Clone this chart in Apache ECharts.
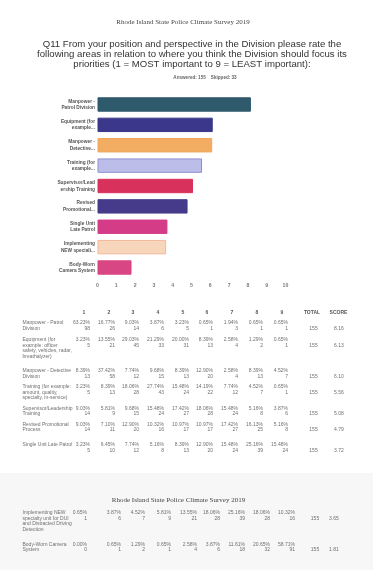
<!DOCTYPE html>
<html>
<head>
<meta charset="utf-8">
<script src="https://cdn.jsdelivr.net/npm/echarts@6/dist/echarts.min.js"></script>
<style>
html,body{margin:0;padding:0;background:#fff;}
#c{width:386px;height:581px;}
</style>
</head>
<body>
<div id="c"></div>
<script>
// ---------------- DATA ----------------
const surveyTitle = 'Rhode Island State Police Climate Survey 2019';
const questionText = 'Q11 From your position and perspective in the Division please rate the\nfollowing areas in relation to where you think the Division should focus its\npriorities (1 = MOST important to 9 = LEAST important):';
const answeredText = 'Answered: 155    Skipped: 33';

const chartCategories = [
  'Manpower -\nPatrol Division',
  'Equipment (for\nexample...',
  'Manpower -\nDetective...',
  'Training (for\nexample...',
  'Supervisor/Lead\nership Training',
  'Revised\nPromotional...',
  'Single Unit\nLate Patrol',
  'Implementing\nNEW speciali...',
  'Body-Worn\nCamera System'
];
const scores = [8.16, 6.13, 6.10, 5.56, 5.08, 4.79, 3.72, 3.65, 1.81];
const xTicks = [0, 1, 2, 3, 4, 5, 6, 7, 8, 9, 10];

const tableHeaders = ['1', '2', '3', '4', '5', '6', '7', '8', '9', 'TOTAL', 'SCORE'];
const tableLabels = [
  'Manpower - Patrol\nDivision',
  'Equipment (for\nexample: officer\nsafety, vehicles, radar,\nbreathalyzer)',
  'Manpower - Detective\nDivision',
  'Training (for example:\namount, quality,\nspecialty, in-service)',
  'Supervisor/Leadership\nTraining',
  'Revised Promotional\nProcess',
  'Single Unit Late Patrol',
  'Implementing NEW\nspecialty unit for DUI\nand Distracted Driving\nDetection',
  'Body-Worn Camera\nSystem'
];
const pctPatrol      = ['63.23%', '16.77%', '9.03%', '3.87%', '3.23%', '0.65%', '1.94%', '0.65%', '0.65%'];
const pctEquipment   = ['3.23%', '13.55%', '29.03%', '21.29%', '20.00%', '8.39%', '2.58%', '1.29%', '0.65%'];
const pctDetective   = ['8.39%', '37.42%', '7.74%', '9.68%', '8.39%', '12.90%', '2.58%', '8.39%', '4.52%'];
const pctTraining    = ['3.23%', '8.39%', '18.06%', '27.74%', '15.48%', '14.19%', '7.74%', '4.52%', '0.65%'];
const pctSupervisor  = ['9.03%', '5.81%', '9.68%', '15.48%', '17.42%', '18.06%', '15.48%', '5.16%', '3.87%'];
const pctRevised     = ['9.03%', '7.10%', '12.90%', '10.32%', '10.97%', '10.97%', '17.42%', '16.13%', '5.16%'];
const pctSingle      = ['3.23%', '6.45%', '7.74%', '5.16%', '8.39%', '12.90%', '15.48%', '25.16%', '15.48%'];
const pctImplementing= ['0.65%', '3.87%', '4.52%', '5.81%', '13.55%', '18.06%', '25.16%', '18.06%', '10.32%'];
const pctBodyWorn    = ['0.00%', '0.65%', '1.29%', '0.65%', '2.58%', '3.87%', '11.61%', '20.65%', '58.71%'];

const cntPatrol      = [98, 26, 14, 6, 5, 1, 3, 1, 1];
const cntEquipment   = [5, 21, 45, 33, 31, 13, 4, 2, 1];
const cntDetective   = [13, 58, 12, 15, 13, 20, 4, 13, 7];
const cntTraining    = [5, 13, 28, 43, 24, 22, 12, 7, 1];
const cntSupervisor  = [14, 9, 15, 24, 27, 28, 24, 8, 6];
const cntRevised     = [14, 11, 20, 16, 17, 17, 27, 25, 8];
const cntSingle      = [5, 10, 12, 8, 13, 20, 24, 39, 24];
const cntImplementing= [1, 6, 7, 9, 21, 28, 39, 28, 16];
const cntBodyWorn    = [0, 1, 2, 1, 4, 6, 18, 32, 91];

const totals = [155, 155, 155, 155, 155, 155, 155, 155, 155];

// ---------------- STYLE / LAYOUT ----------------
const barColors = ['#2e5a6c', '#3b378a', '#f3ad62', '#bcbde9', '#d8325c', '#463a8a', '#d53c88', '#f7d6bb', '#d94684'];
const barBorders = ['#2e5a6c', '#3b378a', '#f0a65a', '#8e8fd2', '#d8325c', '#463a8a', '#d53c88', '#f2b79a', '#d94684'];

const pctRows = [pctPatrol, pctEquipment, pctDetective, pctTraining, pctSupervisor, pctRevised, pctSingle, pctImplementing, pctBodyWorn];
const cntRows = [cntPatrol, cntEquipment, cntDetective, cntTraining, cntSupervisor, cntRevised, cntSingle, cntImplementing, cntBodyWorn];

const rowY = [322.5, 339.5, 371, 386.7, 408.3, 424.3, 445, 512.7, 544.3];
const rowPage = [0, 0, 0, 0, 0, 0, 0, 1, 1];
const colRight = [
  [90, 115, 139, 164, 189, 213, 238, 263, 288],
  [87, 121, 145, 171, 197, 220, 245, 270, 295]
];
const totalX = [313.5, 315];
const scoreX = [334, 329];
const labelX = 22.5;
const lineH = 5.7;

const chart = echarts.init(document.getElementById('c'), null, {renderer: 'canvas'});
const graphics = [];

// paper tint of the second page
graphics.push({type: 'rect', z: -10, shape: {x: 0, y: 473, width: 373, height: 97}, style: {fill: '#f7f7f7'}});

graphics.push({type: 'text', style: {text: surveyTitle, x: 183, y: 22, textAlign: 'center', textVerticalAlign: 'middle', font: '7px "Liberation Serif"', fill: '#444'}});
graphics.push({type: 'text', style: {text: questionText, x: 192, y: 54, textAlign: 'center', textVerticalAlign: 'middle', font: '9.6px "Liberation Sans"', lineHeight: 10, fill: '#333'}});
graphics.push({type: 'text', style: {text: answeredText, x: 205, y: 77.5, textAlign: 'center', textVerticalAlign: 'middle', font: 'bold 4.6px "Liberation Sans"', fill: '#666'}});
graphics.push({type: 'text', style: {text: surveyTitle, x: 178.5, y: 500.5, textAlign: 'center', textVerticalAlign: 'middle', font: '7px "Liberation Serif"', fill: '#444'}});

const tFont = '5px "Liberation Sans"';
const tFill = '#707070';
// header row
tableHeaders.forEach((h, i) => {
  let x;
  if (i < 9) x = colRight[0][i] - 6;
  else if (i === 9) x = totalX[0] - 1.5;
  else x = scoreX[0] + 4.5;
  graphics.push({type: 'text', style: {text: h, x: x, y: 312.5, textAlign: 'center', textVerticalAlign: 'middle', font: 'bold 5px "Liberation Sans"', fill: '#555'}});
});

tableLabels.forEach((lab, r) => {
  const y = rowY[r];
  const p = rowPage[r];
  graphics.push({type: 'text', style: {text: lab, x: labelX, y: y - 2.85, textAlign: 'left', textVerticalAlign: 'top', font: tFont, lineHeight: lineH, fill: tFill}});
  pctRows[r].forEach((v, c) => {
    graphics.push({type: 'text', style: {text: v, x: colRight[p][c], y: y, textAlign: 'right', textVerticalAlign: 'middle', font: tFont, fill: tFill}});
    graphics.push({type: 'text', style: {text: String(cntRows[r][c]), x: colRight[p][c], y: y + lineH, textAlign: 'right', textVerticalAlign: 'middle', font: tFont, fill: tFill}});
  });
  graphics.push({type: 'text', style: {text: String(totals[r]), x: totalX[p], y: y + lineH, textAlign: 'center', textVerticalAlign: 'middle', font: tFont, fill: tFill}});
  graphics.push({type: 'text', style: {text: scores[r].toFixed(2), x: scoreX[p], y: y + lineH, textAlign: 'left', textVerticalAlign: 'middle', font: tFont, fill: tFill}});
});

chart.setOption({
  backgroundColor: '#ffffff',
  animation: false,
  grid: {left: 97.5, top: 94.3, width: 188, height: 183.4, containLabel: false},
  xAxis: {
    type: 'value', min: xTicks[0], max: xTicks[xTicks.length - 1], interval: 1,
    axisLine: {show: false}, axisTick: {show: false}, splitLine: {show: false},
    axisLabel: {fontSize: 5.2, color: '#7a7a7a', margin: 5, fontFamily: 'Liberation Sans', fontWeight: 'bold'}
  },
  yAxis: {
    type: 'category', inverse: true, data: chartCategories,
    axisLine: {show: false}, axisTick: {show: false},
    axisLabel: {fontSize: 4.8, fontWeight: 'bold', color: '#555', lineHeight: 6.4, margin: 2.5, fontFamily: 'Liberation Sans', align: 'right'}
  },
  series: [{
    type: 'bar',
    barWidth: 14.4,
    data: scores.map((v, i) => ({value: v, itemStyle: {color: barColors[i], borderColor: barBorders[i], borderWidth: 1}})),
    label: {show: false}
  }],
  graphic: graphics
});
</script>
</body>
</html>
